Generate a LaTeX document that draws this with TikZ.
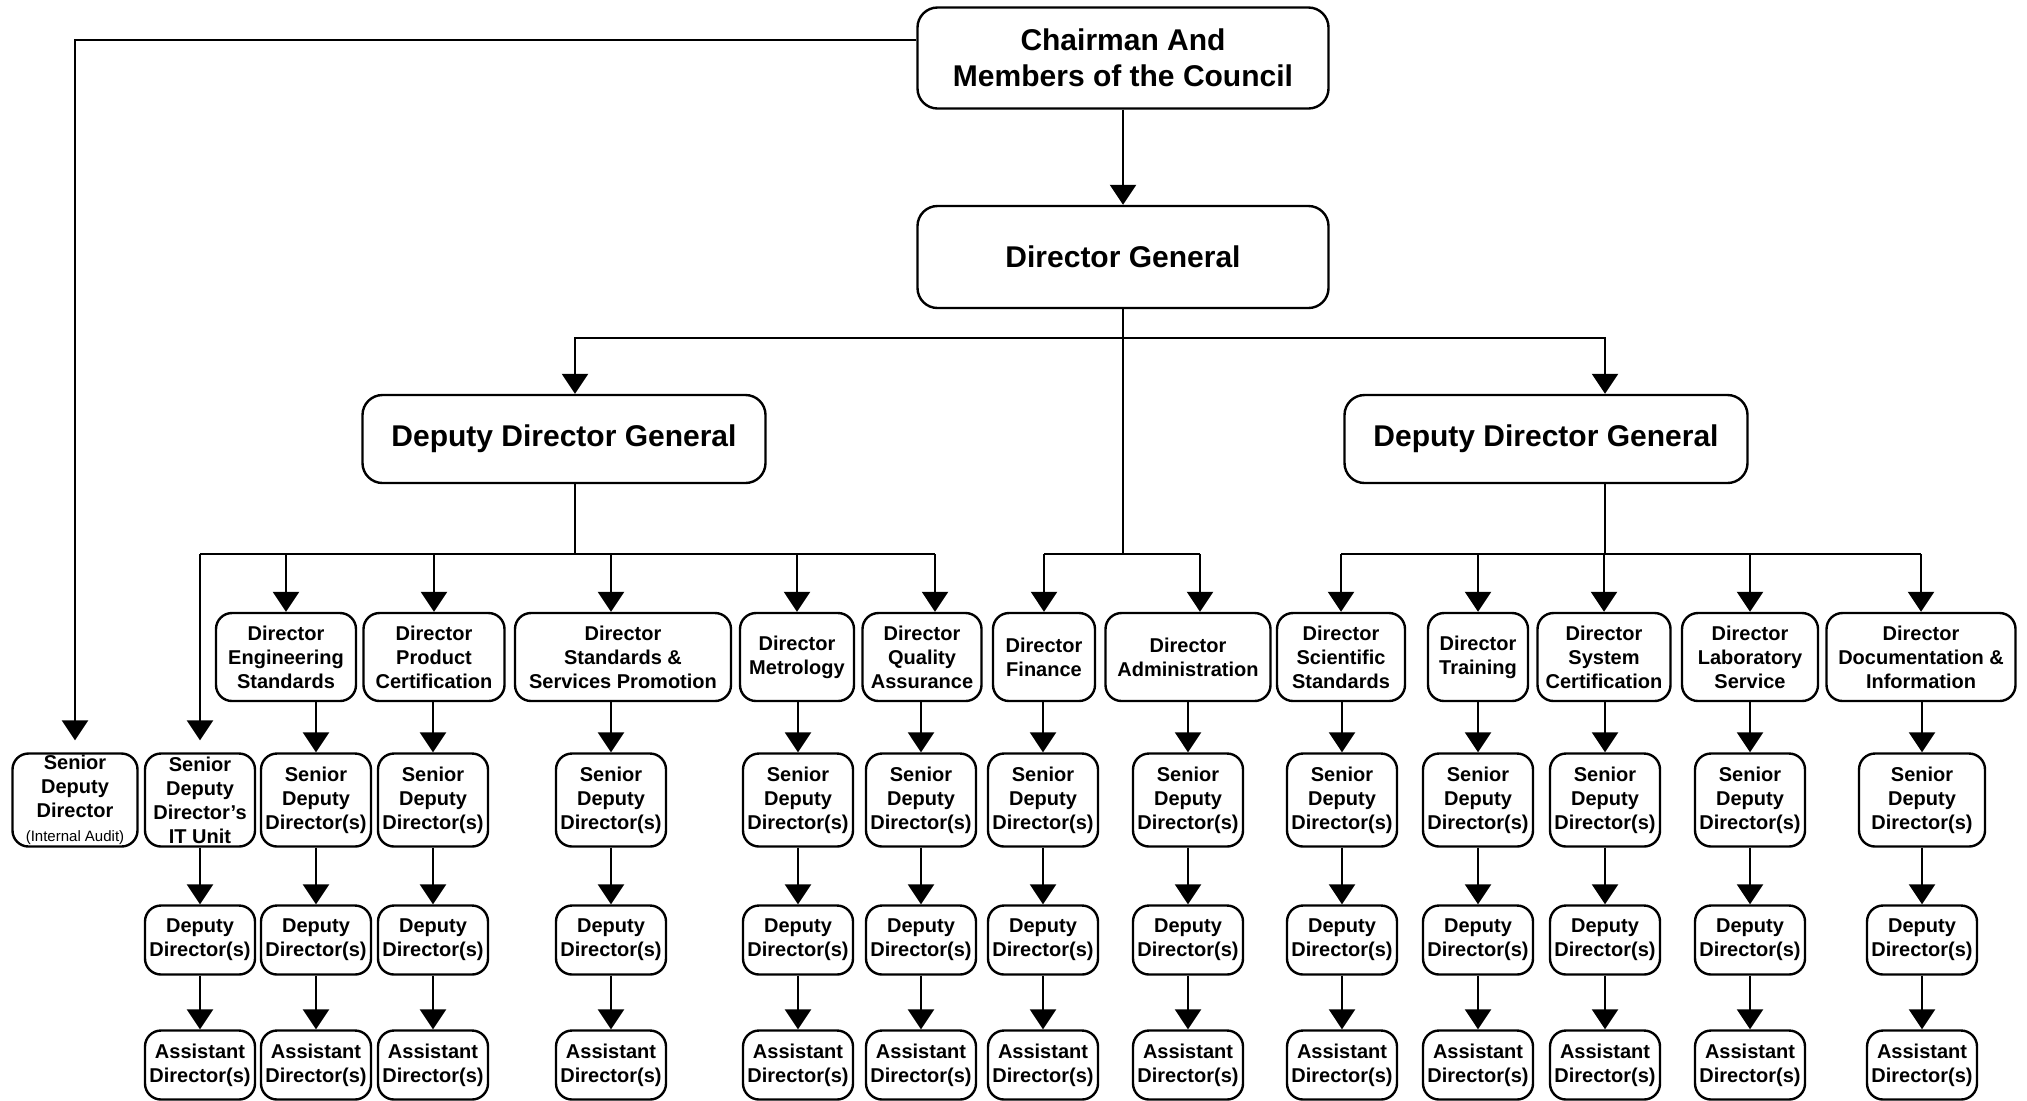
\documentclass[tikz,border=0pt]{standalone}
\usepackage{fontspec}
\setmainfont{Liberation Sans}
\usetikzlibrary{arrows.meta}
\tikzset{
  box/.style={draw, line width=1.2pt, rounded corners=8pt, align=center, inner sep=0pt,
    font=\bfseries\fontsize{10}{12}\selectfont},
  bigbox/.style={box, rounded corners=10pt, font=\bfseries\fontsize{15}{18}\selectfont},
  dirbox/.style={box, minimum height=44pt},
  sbox/.style={box, minimum width=55pt, minimum height=46.5pt},
  lbox/.style={box, minimum width=55pt, minimum height=34.5pt},
  link/.style={line width=1.2pt},
  arr/.style={link, -{Triangle[length=10pt,width=13pt]}}
}
\begin{document}
\begin{tikzpicture}[x=0.5pt,y=-0.5pt]
\useasboundingbox (0,0) rectangle (2027,1100);
\node [bigbox, minimum width=205.5pt, minimum height=50.5pt] (chair) at (1123,58) {Chairman And\\Members of the Council};
\node [bigbox, minimum width=205.5pt, minimum height=51pt] (dg) at (1123,257) {Director General};
\node [bigbox, minimum width=201.5pt, minimum height=44pt] (ddgl) at (564,439) {Deputy Director General};
\node [bigbox, minimum width=201.5pt, minimum height=44pt] (ddgr) at (1546,439) {Deputy Director General};

\node [dirbox, minimum width=70pt] (eng) at (286,657) {Director\\Engineering\\Standards};
\node [dirbox, minimum width=70.5pt] (prod) at (434,657) {Director\\Product\\Certification};
\node [dirbox, minimum width=108pt] (std) at (623,657) {Director\\Standards \&\\Services Promotion};
\node [dirbox, minimum width=57pt] (met) at (797,657) {Director\\Metrology};
\node [dirbox, minimum width=59.5pt] (qa) at (922,657) {Director\\Quality\\Assurance};
\node [dirbox, minimum width=51pt] (fin) at (1044,657) {Director\\Finance};
\node [dirbox, minimum width=82.5pt] (adm) at (1188,657) {Director\\Administration};
\node [dirbox, minimum width=64pt] (sci) at (1341,657) {Director\\Scientific\\Standards};
\node [dirbox, minimum width=50pt] (trn) at (1478,657) {Director\\Training};
\node [dirbox, minimum width=66.5pt] (sys) at (1604,657) {Director\\System\\Certification};
\node [dirbox, minimum width=68pt] (lab) at (1750,657) {Director\\Laboratory\\Service};
\node [dirbox, minimum width=94.5pt] (doc) at (1921,657) {Director\\Documentation \&\\Information};

\node [sbox, minimum width=62.5pt] (sia) at (75,800) {Senior\\Deputy\\Director\\{\mdseries\fontsize{7.5}{9}\selectfont(Internal Audit)}};
\node [sbox] (sit) at (200,800) {Senior\\Deputy\\Director’s\\IT Unit};
\foreach \n/\x in {eng/316, prod/433, std/611, met/798, qa/921, fin/1043, adm/1188, sci/1342, trn/1478, sys/1605, lab/1750}
  \node [sbox] (s\n) at (\x,800) {Senior\\Deputy\\Director(s)};
\node [sbox, minimum width=63pt] (sdoc) at (1922,800) {Senior\\Deputy\\Director(s)};

\foreach \n/\x in {it/200, eng/316, prod/433, std/611, met/798, qa/921, fin/1043, adm/1188, sci/1342, trn/1478, sys/1605, lab/1750, doc/1922} {
  \node [lbox] (d\n) at (\x,940) {Deputy\\Director(s)};
  \node [lbox] (a\n) at (\x,1065) {Assistant\\Director(s)};
  \draw [arr] (s\n) -- (d\n);
  \draw [arr] (d\n) -- (a\n);
}

\coordinate (top) at (1123,338);
\coordinate (bus) at (0,554);
\coordinate (lcol) at ([xshift=5.5pt]ddgl.south);
\coordinate (qcol) at ([xshift=6.5pt]qa.north);
\coordinate (acol) at ([xshift=6pt]adm.north);
\draw [arr] (chair) -- (dg);
\draw [arr, shorten >=6pt] ([yshift=9pt]chair.west) -| (sia.north);
\draw [arr] (dg) -- (top) -| (lcol |- ddgl.north);
\draw [arr] (top) -| (ssys |- ddgr.north);
\draw [link] (top) -- (top |- bus);
\draw [link] (fin |- bus) -- (acol |- bus);
\draw [link] (lcol) -- (lcol |- bus);
\draw [link] (sit |- bus) -- (qcol |- bus);
\draw [link] (ssys |- ddgr.south) -- (ssys |- bus);
\draw [link] (sci |- bus) -- (doc |- bus);
\draw [arr, shorten >=6pt] (sit |- bus) -- (sit.north);
\draw [arr] (sstd |- bus) -- (sstd |- std.north);
\draw [arr] (qcol |- bus) -- (qcol);
\draw [arr] (acol |- bus) -- (acol);
\foreach \n in {eng, prod, met, fin, sci, trn, sys, lab, doc}
  \draw [arr] (\n |- bus) -- (\n.north);
\foreach \n in {eng, prod, std, met, qa, fin, adm, sci, trn, sys, lab, doc}
  \draw [arr] (s\n |- \n.south) -- (s\n.north);
\end{tikzpicture}
\end{document}
